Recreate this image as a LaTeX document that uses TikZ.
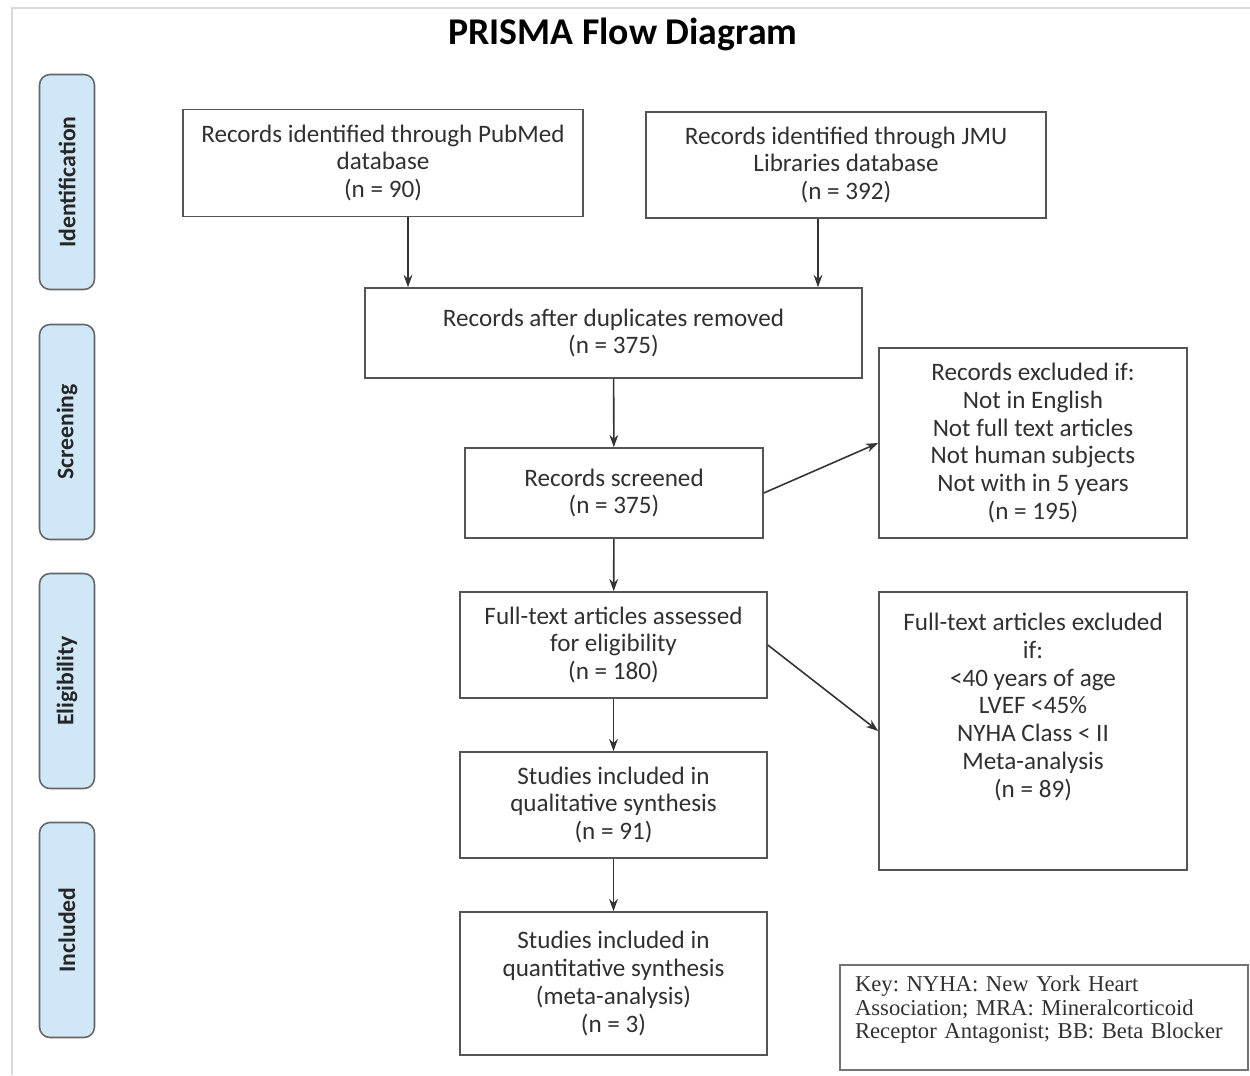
\documentclass[tikz,border=0pt]{standalone}
\usepackage{fontspec}
\setmainfont{Carlito}
\newfontfamily\keyfont{Liberation Serif}
\usetikzlibrary{arrows.meta}
\definecolor{stageblue}{HTML}{CFE7F7}
\definecolor{boxline}{HTML}{555555}
\definecolor{txt}{HTML}{303030}
\tikzset{
  box/.style={draw=boxline, line width=0.9pt, align=center, text=txt,
    font=\fontsize{14.3}{15.8}\selectfont, inner sep=3pt},
  stage/.style={draw=black!60, fill=stageblue, rounded corners=6pt, line width=0.9pt,
    rotate=90, minimum width=4.3cm, minimum height=1.1cm,
    font=\fontsize{13.5}{15}\selectfont\bfseries, text=black!85},
  arr/.style={-{Stealth[length=7pt,width=5pt]}, draw=black!80, line width=0.9pt}
}
\begin{document}
\begin{tikzpicture}
  \useasboundingbox (0,0) rectangle (25,-21.5);
  %marco
  \draw[black!15, line width=1pt] (0.24,-21.5) -- (0.24,-0.16) -- (25,-0.16);
  %titulo
  \node at (12.46,-0.68) (titulo) {\fontsize{21.5}{25}\selectfont\bfseries PRISMA Flow Diagram};
  %%%% ETAPAS
  \node[stage] at (1.34,-3.64) (ident) {Identification};
  \node[stage] at (1.34,-8.64) (screen) {Screening};
  \node[stage] at (1.34,-13.62) (elig) {Eligibility};
  \node[stage] at (1.34,-18.6) (incl) {Included};
  %%%% CAJAS
  \node[box, minimum width=8cm, minimum height=2.14cm] at (7.66,-3.26) (pubmed)
    {Records identified through PubMed\\database\\(n = 90)};
  \node[box, minimum width=8cm, minimum height=2.12cm] at (16.92,-3.3) (jmu)
    {Records identified through JMU\\Libraries database\\(n = 392)};
  \node[box, minimum width=9.94cm, minimum height=1.8cm] at (12.27,-6.66) (dups)
    {Records after duplicates removed\\(n = 375)};
  \node[box, minimum width=5.96cm, minimum height=1.8cm] at (12.28,-9.86) (screened)
    {Records screened\\(n = 375)};
  \node[box, minimum width=6.16cm, minimum height=3.8cm] at (20.66,-8.86) (exclrec)
    {Records excluded if:\\Not in English\\Not full text articles\\Not human subjects\\Not with in 5 years\\(n = 195)};
  \node[box, minimum width=6.14cm, minimum height=2.12cm] at (12.27,-12.9) (fulltext)
    {Full-text articles assessed\\for eligibility\\(n = 180)};
  \node[box, minimum width=6.16cm, minimum height=5.56cm] at (20.66,-14.62) (exclfull)
    {Full-text articles excluded\\if:\\<40 years of age\\LVEF <45\%\\NYHA Class < II\\Meta-analysis\\(n = 89)\\[0.48cm]};
  \node[box, minimum width=6.14cm, minimum height=2.12cm] at (12.27,-16.1) (qual)
    {Studies included in\\qualitative synthesis\\(n = 91)};
  \node[box, minimum width=6.14cm, minimum height=2.86cm] at (12.27,-19.67) (quant)
    {Studies included in\\quantitative synthesis\\(meta-analysis)\\(n = 3)};
  %clave
  \node[box, draw=black!55, line width=0.8pt, align=left, inner xsep=0.3cm, text width=7.56cm,
    minimum height=2.1cm, font=\keyfont\fontsize{12.9}{13.4}\selectfont\frenchspacing] at (20.88,-20.35) (clave)
    {Key: NYHA: New York Heart\\Association; MRA: Mineralcorticoid\\Receptor Antagonist; BB: Beta Blocker\par\vspace*{0.3cm}};
  %%%% FLECHAS
  \draw[arr] ([xshift=0.5cm]pubmed.south) -- ([xshift=0.5cm]pubmed.south |- dups.north);
  \draw[arr] ([xshift=-0.56cm]jmu.south) -- ([xshift=-0.56cm]jmu.south |- dups.north);
  \draw[arr] (dups) -- (screened);
  \draw[arr] (screened.east) -- (exclrec.west);
  \draw[arr] (screened) -- (fulltext);
  \draw[arr] (fulltext.east) -- (exclfull.west);
  \draw[arr] (fulltext) -- (qual);
  \draw[arr] (qual) -- (quant);
\end{tikzpicture}
\end{document}
